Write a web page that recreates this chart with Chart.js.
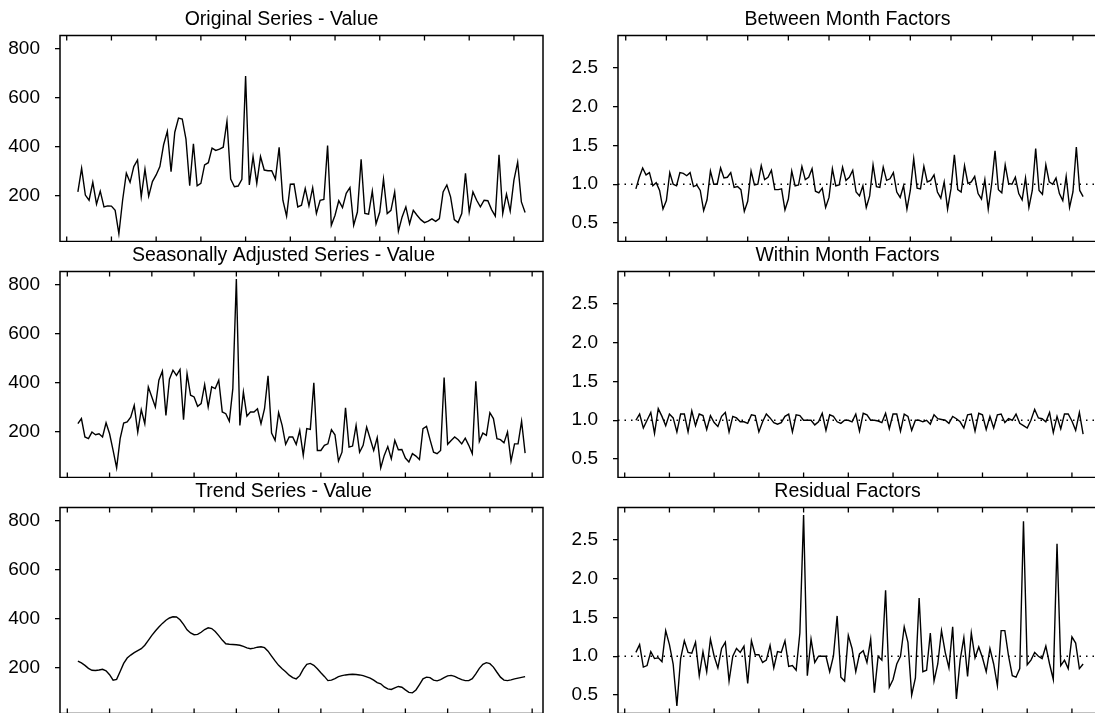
<!DOCTYPE html>
<html>
<head>
<meta charset="utf-8">
<script src="https://cdn.jsdelivr.net/npm/chart.js@4.4.1/dist/chart.umd.min.js"></script>
<style>
  html, body { margin: 0; padding: 0; background: #fff; overflow: hidden; }
  body { width: 1095px; height: 713px; position: relative; }
  canvas { position: absolute; }
</style>
</head>
<body>
<canvas id="c1" width="560" height="242" style="left:0px;top:0px"></canvas>
<canvas id="c2" width="560" height="242" style="left:558px;top:0px"></canvas>
<canvas id="c3" width="560" height="242" style="left:0px;top:236px"></canvas>
<canvas id="c4" width="560" height="242" style="left:558px;top:236px"></canvas>
<canvas id="c5" width="560" height="242" style="left:0px;top:472px"></canvas>
<canvas id="c6" width="560" height="242" style="left:558px;top:472px"></canvas>
<script>
//series values, one per month
const originalSeries = [
  216, 312, 203, 182, 255, 166, 219, 155, 159, 158,
  141, 45, 182, 292, 255, 319, 346, 196, 309, 199,
  258, 285, 319, 408, 463, 298, 459, 517, 513, 431,
  241, 412, 241, 251, 326, 335, 394, 385, 390, 398,
  504, 268, 237, 240, 267, 688, 244, 360, 251, 360,
  305, 302, 302, 268, 398, 182, 117, 247, 248, 155,
  162, 230, 159, 233, 128, 182, 185, 405, 80, 121,
  180, 152, 210, 234, 80, 134, 349, 128, 125, 219,
  86, 134, 268, 128, 141, 216, 56, 114, 155, 86,
  141, 121, 103, 91, 97, 106, 96, 107, 216, 244,
  196, 103, 91, 128, 292, 134, 216, 182, 155, 182,
  180, 144, 117, 367, 128, 207, 138, 264, 337, 175,
  132
];
const seasAdjSeries = [
  233, 254, 179, 172, 199, 188, 192, 179, 237, 192,
  124, 53, 172, 236, 240, 260, 308, 199, 290, 233,
  383, 342, 301, 410, 447, 267, 414, 451, 430, 454,
  249, 437, 349, 342, 304, 315, 392, 301, 383, 376,
  410, 281, 274, 243, 376, 822, 226, 362, 264, 281,
  281, 294, 233, 294, 428, 195, 165, 278, 226, 149,
  179, 179, 149, 206, 104, 213, 210, 400, 124, 124,
  145, 151, 209, 188, 81, 117, 298, 138, 142, 226,
  117, 145, 219, 172, 124, 176, 53, 104, 140, 90,
  165, 127, 128, 93, 77, 111, 101, 87, 213, 222,
  168, 117, 111, 124, 421, 149, 165, 179, 168, 151,
  174, 145, 111, 406, 161, 195, 186, 278, 254, 172,
  168, 155, 199, 81, 151, 151, 243, 113
];
const trendSeries = [
  227, 220, 210, 198, 190, 189, 191, 194, 188, 172,
  150, 153, 185, 218, 240, 252, 262, 270, 278, 292,
  312, 332, 350, 366, 381, 394, 403, 408, 407, 396,
  377, 355, 342, 335, 336, 345, 356, 363, 360, 348,
  331, 313, 298, 296, 295, 294, 292, 287, 281, 278,
  280, 284, 286, 282, 268, 248, 228, 210, 196, 184,
  170, 160, 155, 168, 195, 214, 218, 210, 196, 180,
  165, 148, 150, 156, 164, 168, 171, 173, 174, 173,
  171, 168, 163, 158, 150, 140, 135, 122, 114, 112,
  118, 124, 121, 110, 100, 98, 110, 132, 155, 162,
  160, 150, 147, 152, 160, 167, 169, 165, 158, 152,
  148, 148, 156, 175, 198, 214, 221, 217, 203, 182,
  162, 150, 148, 151, 155, 158, 161, 164
];
const betweenMonth = [
  0.94, 1.09, 1.21, 1.12, 1.15, 0.98, 1.02, 0.92, 0.68, 0.79,
  1.15, 1.00, 0.98, 1.15, 1.14, 1.11, 1.15, 0.97, 0.99, 0.92,
  0.66, 0.80, 1.17, 1.00, 1.00, 1.21, 1.08, 1.09, 1.15, 0.96,
  0.97, 0.93, 0.65, 0.78, 1.17, 0.99, 1.00, 1.24, 1.06, 1.09,
  1.18, 0.93, 0.93, 0.94, 0.67, 0.81, 1.17, 0.98, 0.99, 1.23,
  1.06, 1.09, 1.20, 0.91, 0.89, 0.95, 0.70, 0.83, 1.20, 0.98,
  0.99, 1.22, 1.05, 1.09, 1.18, 0.90, 0.85, 0.98, 0.70, 0.85,
  1.25, 0.97, 0.96, 1.22, 1.05, 1.07, 1.15, 0.90, 0.83, 0.98,
  0.68, 0.92, 1.33, 0.95, 0.94, 1.23, 1.03, 1.05, 1.12, 0.90,
  0.82, 1.03, 0.68, 0.94, 1.38, 0.93, 0.90, 1.24, 1.01, 1.03,
  1.10, 0.88, 0.81, 1.06, 0.68, 1.00, 1.43, 0.93, 0.89, 1.25,
  1.01, 1.00, 1.09, 0.88, 0.80, 1.08, 0.70, 0.92, 1.46, 0.92,
  0.87, 1.25, 1.03, 1.00, 1.08, 0.88, 0.79, 1.10, 0.70, 0.90,
  1.48, 0.92, 0.84
];
const withinMonth = [
  1.00, 1.08, 0.90, 1.00, 1.10, 0.83, 1.15, 1.05, 0.93, 1.08,
  1.03, 0.85, 1.08, 1.08, 0.85, 1.12, 0.93, 1.08, 1.06, 0.88,
  1.06, 0.97, 0.92, 1.05, 1.10, 0.85, 1.05, 1.03, 0.98, 0.98,
  0.96, 1.07, 1.06, 0.85, 0.98, 1.08, 1.03, 0.97, 0.95, 0.97,
  1.05, 1.08, 0.85, 1.07, 1.06, 1.00, 1.00, 1.00, 0.94, 0.98,
  1.09, 0.87, 1.07, 1.05, 0.98, 0.96, 1.00, 1.00, 0.98, 1.08,
  0.86, 1.09, 1.07, 1.00, 1.00, 0.99, 0.97, 1.09, 0.89, 1.08,
  1.08, 0.86, 1.08, 1.05, 0.87, 1.00, 1.00, 0.98, 1.00, 0.95,
  1.07, 1.02, 1.01, 1.00, 0.96, 1.05, 1.02, 0.98, 0.90, 1.07,
  1.08, 0.86, 1.09, 1.07, 0.88, 1.05, 0.90, 1.07, 1.08, 0.97,
  1.02, 1.00, 1.08, 0.96, 0.93, 0.90, 1.00, 1.14, 1.03, 1.02,
  0.98, 1.10, 0.84, 1.05, 0.89, 1.08, 1.08, 0.99, 0.87, 1.10,
  0.82
];
const residualFactors = [
  1.05, 1.15, 0.86, 0.88, 1.06, 0.97, 0.98, 0.93, 1.33, 1.15,
  0.90, 0.36, 0.97, 1.20, 1.05, 1.04, 1.18, 0.75, 1.06, 0.80,
  1.22, 1.00, 0.85, 1.10, 1.18, 0.68, 1.00, 1.10, 1.05, 1.13,
  0.65, 1.20, 1.02, 1.02, 0.92, 0.95, 1.14, 0.85, 1.06, 1.05,
  1.20, 0.87, 0.88, 0.82, 1.30, 2.82, 0.75, 1.22, 0.92, 1.00,
  1.00, 1.00, 0.80, 1.00, 1.52, 0.73, 0.68, 1.27, 1.10, 0.80,
  1.03, 1.07, 0.92, 1.22, 0.53, 1.00, 0.95, 1.85, 0.60, 0.70,
  0.90, 1.00, 1.38, 1.18, 0.50, 0.72, 1.75, 0.80, 0.82, 1.30,
  0.68, 0.90, 1.33, 1.05, 0.85, 1.38, 0.45, 0.95, 1.24, 0.74,
  1.30, 0.98, 1.12, 0.98, 0.80, 1.10, 0.90, 0.62, 1.33, 1.33,
  1.00, 0.75, 0.73, 0.84, 2.74, 0.89, 0.95, 1.05, 1.00, 0.97,
  1.13, 0.90, 0.70, 2.45, 0.88, 0.95, 0.84, 1.25, 1.17, 0.84,
  0.90
];

//tick labels
const valueTicks = [200, 400, 600, 800];
const factorTicks = [0.5, 1.0, 1.5, 2.0, 2.5];

//x ticks: one per year, first one 3 months before the first observation
const X_TICK_START = -3;
const X_TICK_STEP = 12;

const FONT = "'Liberation Sans', Arial, Helvetica, sans-serif";
const FONT_SIZE = 19;
const TITLE_SIZE = 19.5;

//titleShift: where the title sits relative to the middle of the box
const panels = [
  { id: "c1", title: "Original Series - Value", values: originalSeries, kind: "value", titleShift: -20 },
  { id: "c2", title: "Between Month Factors", values: betweenMonth, kind: "factor", titleShift: -12 },
  { id: "c3", title: "Seasonally Adjusted Series - Value", values: seasAdjSeries, kind: "value", titleShift: -18 },
  { id: "c4", title: "Within Month Factors", values: withinMonth, kind: "factor", titleShift: -12 },
  { id: "c5", title: "Trend Series - Value", values: trendSeries, kind: "value", titleShift: -18 },
  { id: "c6", title: "Residual Factors", values: residualFactors, kind: "factor", titleShift: -12 },
];

//each column shares one y range: data range plus 4% at both ends (like R)
function paddedRange(lists) {
  const all = [].concat(...lists);
  const lo = Math.min(...all);
  const hi = Math.max(...all);
  const pad = (hi - lo) * 0.04;
  return [lo - pad, hi + pad];
}
const valueRange = paddedRange([originalSeries, seasAdjSeries, trendSeries]);
const factorRange = paddedRange([betweenMonth, withinMonth, residualFactors]);

//box, inward x ticks, dotted reference line and the panel title
const framePlugin = {
  id: "frame",
  afterDatasetsDraw(chart, args, opts) {
    const { ctx, chartArea: a } = chart;
    const x = chart.scales.x;
    const y = chart.scales.y;
    ctx.save();
    ctx.strokeStyle = "#000";

    if (opts.refLine != null) {
      const py = y.getPixelForValue(opts.refLine);
      ctx.lineWidth = 1.4;
      ctx.setLineDash([1.5, 5]);
      ctx.beginPath();
      ctx.moveTo(a.left, py);
      ctx.lineTo(a.right, py);
      ctx.stroke();
      ctx.setLineDash([]);
    }

    ctx.lineWidth = 1.5;
    ctx.strokeRect(a.left, a.top, a.right - a.left, a.bottom - a.top);

    ctx.lineWidth = 1.3;
    ctx.beginPath();
    for (let v = X_TICK_START; v <= x.max; v += X_TICK_STEP) {
      if (v < x.min) continue;
      const px = x.getPixelForValue(v);
      ctx.moveTo(px, a.top);
      ctx.lineTo(px, a.top + 5);
      ctx.moveTo(px, a.bottom);
      ctx.lineTo(px, a.bottom - 5);
    }
    ctx.stroke();

    ctx.fillStyle = "#000";
    ctx.font = TITLE_SIZE + "px " + FONT;
    ctx.textAlign = "center";
    ctx.textBaseline = "middle";
    ctx.fillText(opts.title, (a.left + a.right) / 2 + opts.titleShift, a.top - 16);
    ctx.restore();
  },
};

function makePanel(p) {
  const n = p.values.length;
  const isFactor = p.kind === "factor";
  const range = isFactor ? factorRange : valueRange;
  const ticks = isFactor ? factorTicks : valueTicks;
  return new Chart(document.getElementById(p.id), {
    type: "line",
    data: {
      datasets: [
        {
          data: p.values.map((v, i) => ({ x: i, y: v })),
          borderColor: "#000",
          borderWidth: 1.4,
          pointRadius: 0,
          tension: 0,
          fill: false,
        },
      ],
    },
    options: {
      responsive: false,
      animation: false,
      devicePixelRatio: 1,
      events: [],
      layout: { padding: { top: 35.5, right: 17, bottom: 0.5, left: 0 } },
      scales: {
        x: {
          type: "linear",
          display: false,
          min: -(n - 1) * 0.04,
          max: (n - 1) * 1.04,
        },
        y: {
          type: "linear",
          min: range[0],
          max: range[1],
          afterBuildTicks: (s) => {
            s.ticks = ticks.map((v) => ({ value: v }));
          },
          afterFit: (s) => {
            //fixed axis width, and no extra room for labels at the ends
            s.width = 60;
            s.paddingTop = 0;
            s.paddingBottom = 0;
          },
          border: { display: false },
          grid: {
            drawOnChartArea: false,
            drawTicks: true,
            tickLength: 5,
            color: "#000",
            lineWidth: 1.3,
          },
          ticks: {
            color: "#000",
            padding: 15,
            font: { family: FONT, size: FONT_SIZE },
            callback: (v) => (isFactor ? v.toFixed(1) : String(v)),
          },
        },
      },
      plugins: {
        legend: { display: false },
        tooltip: { enabled: false },
        frame: { title: p.title, refLine: isFactor ? 1 : null, titleShift: p.titleShift },
      },
    },
    plugins: [framePlugin],
  });
}

panels.forEach(makePanel);
</script>
</body>
</html>
